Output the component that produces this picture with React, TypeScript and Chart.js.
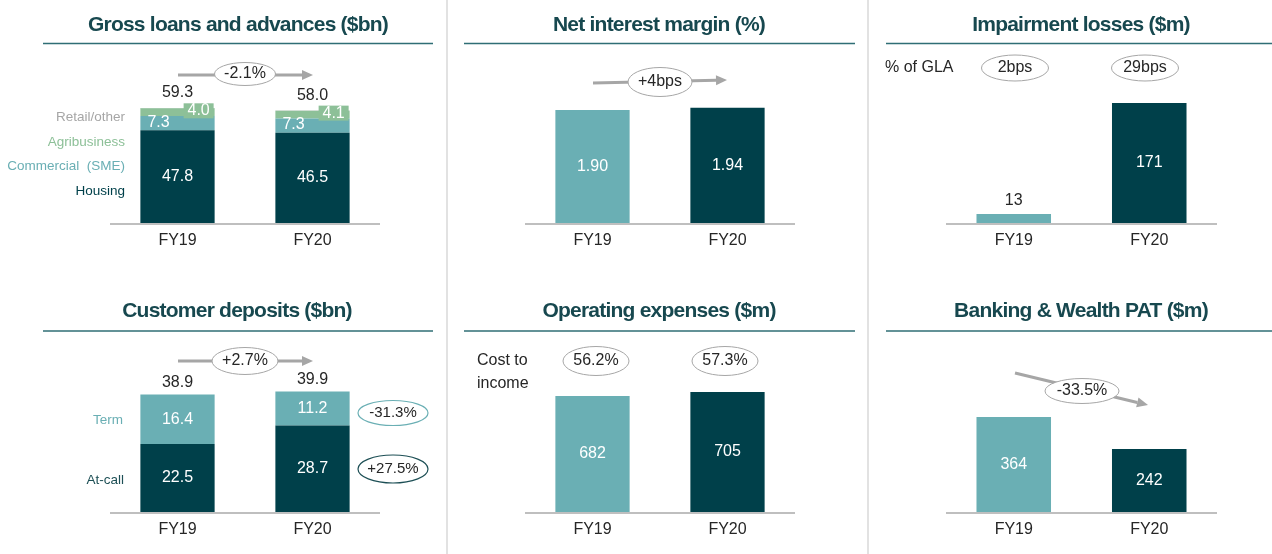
import React, { useEffect, useRef } from "react";
import { Chart, registerables } from "chart.js";

Chart.register(...registerables);

// ---------------- data ----------------
const categories = ["FY19", "FY20"];

const loansHousing = [47.8, 46.5];
const loansCommercial = [7.3, 7.3];
const loansAgri = [4.0, 4.1];
const loansRetail = [0.2, 0.1];
const loansTotal = ["59.3", "58.0"];
const loansChange = "-2.1%";

const nimValues = [1.9, 1.94];
const nimLabels = ["1.90", "1.94"];
const nimChange = "+4bps";

const impairmentValues = [13, 171];
const impairmentBps = ["2bps", "29bps"];

const depositsAtCall = [22.5, 28.7];
const depositsTerm = [16.4, 11.2];
const depositsTotal = ["38.9", "39.9"];
const depositsChange = "+2.7%";
const termChange = "-31.3%";
const atCallChange = "+27.5%";

const opexValues = [682, 705];
const costToIncome = ["56.2%", "57.3%"];

const patValues = [364, 242];
const patChange = "-33.5%";

// ---------------- style ----------------
const W = 1272;
const H = 554;
const FONT = "'Liberation Sans', Arial, Helvetica, sans-serif";
const DARK = "#00404A";
const LIGHT = "#6AAFB4";
const GREEN = "#8DC098";
const RETAIL = "#A6A6A6";
const TXT = "#262626";
const ARROW = "#A6A6A6";
const TITLE = "#17484F";
const RULE = "#2F6E75";

type Ctx = CanvasRenderingContext2D;

function text(ctx: Ctx, s: string, x: number, y: number, size = 16, color = TXT, align: CanvasTextAlign = "center") {
  ctx.save();
  ctx.font = `${size}px ${FONT}`;
  ctx.fillStyle = color;
  ctx.textAlign = align;
  ctx.textBaseline = "middle";
  ctx.fillText(s, x, y);
  ctx.restore();
}

function bubble(ctx: Ctx, s: string, cx: number, cy: number, w: number, h: number, stroke = "#A6A6A6", lw = 1, size = 16) {
  ctx.save();
  ctx.beginPath();
  ctx.ellipse(cx, cy, w / 2, h / 2, 0, 0, Math.PI * 2);
  ctx.fillStyle = "#ffffff";
  ctx.fill();
  ctx.lineWidth = lw;
  ctx.strokeStyle = stroke;
  ctx.stroke();
  ctx.restore();
  text(ctx, s, cx, cy, size, TXT);
}

function arrow(ctx: Ctx, x0: number, y0: number, x1: number, y1: number) {
  const ang = Math.atan2(y1 - y0, x1 - x0);
  const head = 11;
  const half = 5;
  const bx = x1 - head * Math.cos(ang);
  const by = y1 - head * Math.sin(ang);
  ctx.save();
  ctx.strokeStyle = ARROW;
  ctx.fillStyle = ARROW;
  ctx.lineWidth = 3;
  ctx.beginPath();
  ctx.moveTo(x0, y0);
  ctx.lineTo(bx, by);
  ctx.stroke();
  ctx.beginPath();
  ctx.moveTo(x1, y1);
  ctx.lineTo(bx + half * Math.sin(ang), by - half * Math.cos(ang));
  ctx.lineTo(bx - half * Math.sin(ang), by + half * Math.cos(ang));
  ctx.closePath();
  ctx.fill();
  ctx.restore();
}

function bar(chart: any, ds: number, i: number) {
  return chart.getDatasetMeta(ds).data[i] as any;
}

function mid(b: any) {
  return (b.y + b.base) / 2;
}

interface PanelSpec {
  title: string;
  titleX: number;
  titleY: number;
  ruleY: number;
  ruleX0: number;
  ruleX1: number;
  area: { left: number; right: number; top: number; bottom: number };
  yMax: number;
  stacked: boolean;
  datasets: any[];
  draw: (ctx: Ctx, chart: any) => void;
  page?: boolean;
}

const panels: PanelSpec[] = [
  {
    title: "Gross loans and advances ($bn)",
    titleX: 238, titleY: 31, ruleY: 43.5, ruleX0: 43, ruleX1: 433,
    area: { left: 110, right: 380, top: 40, bottom: 223 },
    yMax: 94.3,
    stacked: true,
    page: true,
    datasets: [
      { label: "Housing", data: loansHousing, backgroundColor: DARK },
      { label: "Commercial (SME)", data: loansCommercial, backgroundColor: LIGHT },
      { label: "Agribusiness", data: loansAgri, backgroundColor: GREEN },
      { label: "Retail/other", data: loansRetail, backgroundColor: RETAIL },
    ],
    draw: (ctx, chart) => {
      for (let i = 0; i < categories.length; i++) {
        const h = bar(chart, 0, i);
        const c = bar(chart, 1, i);
        const a = bar(chart, 2, i);
        const r = bar(chart, 3, i);
        text(ctx, String(loansHousing[i].toFixed(1)), h.x, mid(h), 16, "#ffffff");
        text(ctx, loansCommercial[i].toFixed(1), c.x - c.width / 2 + 7, mid(c) - 1, 16, "#ffffff", "left");
        const bw = 30;
        const bh = 15;
        const bxr = a.x + a.width / 2 - 1;
        const byt = a.y - 5;
        ctx.fillStyle = GREEN;
        ctx.fillRect(bxr - bw, byt, bw, bh);
        text(ctx, loansAgri[i].toFixed(1), bxr - bw / 2, byt + bh / 2, 16, "#ffffff");
        text(ctx, loansTotal[i], r.x, r.y - 15, 16, TXT);
      }
      text(ctx, "Retail/other", 125, 117, 13.5, RETAIL, "right");
      text(ctx, "Agribusiness", 125, 142, 13.5, GREEN, "right");
      text(ctx, "Commercial  (SME)", 125, 166, 13.5, LIGHT, "right");
      text(ctx, "Housing", 125, 191, 13.5, DARK, "right");
      arrow(ctx, 178, 75, 313, 75);
      bubble(ctx, loansChange, 245, 74, 61, 23);
    },
  },
  {
    title: "Net interest margin (%)",
    titleX: 659, titleY: 31, ruleY: 43.5, ruleX0: 464, ruleX1: 855,
    area: { left: 525, right: 795, top: 40, bottom: 223 },
    yMax: 3.08,
    stacked: false,
    datasets: [{ label: "NIM", data: nimValues, backgroundColor: [LIGHT, DARK] }],
    draw: (ctx, chart) => {
      for (let i = 0; i < categories.length; i++) {
        const b = bar(chart, 0, i);
        text(ctx, nimLabels[i], b.x, mid(b), 16, "#ffffff");
      }
      arrow(ctx, 593, 83, 727, 80);
      bubble(ctx, nimChange, 660, 82, 64, 29);
    },
  },
  {
    title: "Impairment losses ($m)",
    titleX: 1081, titleY: 31, ruleY: 43.5, ruleX0: 886, ruleX1: 1276,
    area: { left: 946, right: 1217, top: 40, bottom: 223 },
    yMax: 261,
    stacked: false,
    datasets: [{ label: "Impairment", data: impairmentValues, backgroundColor: [LIGHT, DARK] }],
    draw: (ctx, chart) => {
      const b0 = bar(chart, 0, 0);
      text(ctx, String(impairmentValues[0]), b0.x, b0.y - 13, 16, TXT);
      const b1 = bar(chart, 0, 1);
      text(ctx, String(impairmentValues[1]), b1.x, mid(b1), 16, "#ffffff");
      text(ctx, "% of GLA", 885, 68, 16, TXT, "left");
      bubble(ctx, impairmentBps[0], 1015, 68, 67, 26);
      bubble(ctx, impairmentBps[1], 1145, 68, 67, 26);
    },
  },
  {
    title: "Customer deposits ($bn)",
    titleX: 237, titleY: 317, ruleY: 331, ruleX0: 43, ruleX1: 433,
    area: { left: 110, right: 380, top: 330, bottom: 512 },
    yMax: 60.3,
    stacked: true,
    datasets: [
      { label: "At-call", data: depositsAtCall, backgroundColor: DARK },
      { label: "Term", data: depositsTerm, backgroundColor: LIGHT },
    ],
    draw: (ctx, chart) => {
      for (let i = 0; i < categories.length; i++) {
        const a = bar(chart, 0, i);
        const t = bar(chart, 1, i);
        text(ctx, depositsAtCall[i].toFixed(1), a.x, mid(a), 16, "#ffffff");
        text(ctx, depositsTerm[i].toFixed(1), t.x, mid(t), 16, "#ffffff");
        text(ctx, depositsTotal[i], t.x, t.y - 12, 16, TXT);
      }
      text(ctx, "Term", 123, 420, 13.5, LIGHT, "right");
      text(ctx, "At-call", 124, 480, 13.5, "#1D4F55", "right");
      arrow(ctx, 178, 361, 313, 361);
      bubble(ctx, depositsChange, 245, 361, 66, 27);
      bubble(ctx, termChange, 393, 413, 70, 25, LIGHT, 1.2, 15);
      bubble(ctx, atCallChange, 393, 469, 70, 28, "#1D4F55", 1.2, 15);
    },
  },
  {
    title: "Operating expenses ($m)",
    titleX: 659, titleY: 317, ruleY: 331, ruleX0: 464, ruleX1: 855,
    area: { left: 525, right: 795, top: 330, bottom: 512 },
    yMax: 1070,
    stacked: false,
    datasets: [{ label: "Opex", data: opexValues, backgroundColor: [LIGHT, DARK] }],
    draw: (ctx, chart) => {
      for (let i = 0; i < categories.length; i++) {
        const b = bar(chart, 0, i);
        text(ctx, String(opexValues[i]), b.x, mid(b), 16, "#ffffff");
      }
      text(ctx, "Cost to", 477, 361, 16, TXT, "left");
      text(ctx, "income", 477, 384, 16, TXT, "left");
      bubble(ctx, costToIncome[0], 596, 361, 66, 29);
      bubble(ctx, costToIncome[1], 725, 361, 66, 29);
    },
  },
  {
    title: "Banking & Wealth PAT ($m)",
    titleX: 1081, titleY: 317, ruleY: 331, ruleX0: 886, ruleX1: 1276,
    area: { left: 946, right: 1217, top: 330, bottom: 512 },
    yMax: 698,
    stacked: false,
    datasets: [{ label: "PAT", data: patValues, backgroundColor: [LIGHT, DARK] }],
    draw: (ctx, chart) => {
      for (let i = 0; i < categories.length; i++) {
        const b = bar(chart, 0, i);
        text(ctx, String(patValues[i]), b.x, mid(b), 16, "#ffffff");
      }
      arrow(ctx, 1015, 373, 1148, 405);
      bubble(ctx, patChange, 1082, 391, 74, 25);
    },
  },
];

function Panel({ spec }: { spec: PanelSpec }) {
  const ref = useRef<HTMLCanvasElement | null>(null);
  useEffect(() => {
    if (!ref.current) return;
    const s = spec;
    const annot = {
      id: "annot",
      beforeDraw(chart: any) {
        const ctx: Ctx = chart.ctx;
        if (s.page) {
          ctx.save();
          ctx.strokeStyle = "#D9D9D9";
          ctx.lineWidth = 1.5;
          ctx.beginPath();
          ctx.moveTo(447, 0);
          ctx.lineTo(447, H);
          ctx.moveTo(868, 0);
          ctx.lineTo(868, H);
          ctx.stroke();
          ctx.restore();
        }
        // title
        ctx.save();
        ctx.font = `bold 21px ${FONT}`;
        (ctx as any).letterSpacing = "-0.77px";
        ctx.fillStyle = TITLE;
        ctx.textAlign = "center";
        ctx.textBaseline = "alphabetic";
        ctx.fillText(s.title, s.titleX, s.titleY);
        (ctx as any).letterSpacing = "0px";
        ctx.restore();
        ctx.save();
        ctx.strokeStyle = RULE;
        ctx.lineWidth = 1.5;
        ctx.beginPath();
        ctx.moveTo(s.ruleX0, s.ruleY);
        ctx.lineTo(s.ruleX1, s.ruleY);
        ctx.stroke();
        ctx.restore();
      },
      afterDatasetsDraw(chart: any) {
        const ctx: Ctx = chart.ctx;
        const area = chart.chartArea;
        const xs = chart.scales.x;
        // baseline
        ctx.save();
        ctx.strokeStyle = "#BFBFBF";
        ctx.lineWidth = 2;
        ctx.beginPath();
        ctx.moveTo(area.left, area.bottom + 1);
        ctx.lineTo(area.right, area.bottom + 1);
        ctx.stroke();
        ctx.restore();
        categories.forEach((c, i) => {
          text(ctx, c, xs.getPixelForValue(i), area.bottom + 18, 16, TXT);
        });
        s.draw(ctx, chart);
      },
    };
    const chart = new Chart(ref.current, {
      type: "bar",
      data: { labels: categories, datasets: s.datasets.map((d) => ({ ...d, borderWidth: 0 })) },
      options: {
        responsive: false,
        animation: false,
        events: [],
        layout: {
          padding: {
            left: s.area.left,
            right: W - s.area.right,
            top: s.area.top,
            bottom: H - s.area.bottom,
          },
        },
        plugins: {
          legend: { display: false },
          tooltip: { enabled: false },
          title: { display: false },
        },
        datasets: { bar: { categoryPercentage: 1, barPercentage: 0.55 } },
        scales: {
          x: { display: false, stacked: s.stacked, offset: true },
          y: { display: false, stacked: s.stacked, min: 0, max: s.yMax },
        },
      } as any,
      plugins: [annot as any],
    });
    return () => chart.destroy();
  }, [spec]);
  return (
    <canvas
      ref={ref}
      width={W}
      height={H}
      style={{ position: "absolute", left: 0, top: 0, width: W, height: H }}
    />
  );
}

export default function App() {
  return (
    <div style={{ position: "fixed", left: 0, top: 0, width: W, height: H, background: "#ffffff", overflow: "hidden" }}>
      {panels.map((p, i) => (
        <Panel key={i} spec={p} />
      ))}
    </div>
  );
}
